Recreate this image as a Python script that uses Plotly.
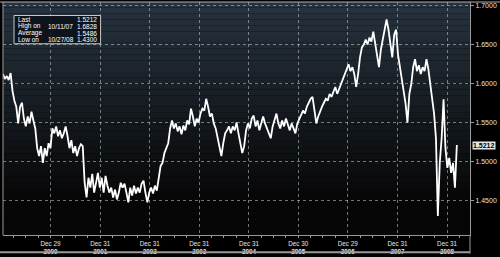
import pandas as pd
import plotly.graph_objects as go

# EUR/CHF-style series, fortnightly closes
start_date = "2000-01-14"
values = [
    1.6124, 1.6061, 1.6099, 1.6048, 1.6137, 1.5909, 1.5782, 1.5705, 1.5490, 1.5705,
    1.5756, 1.5553, 1.5452, 1.5579, 1.5490, 1.5642, 1.5528, 1.5426, 1.5172, 1.5071,
    1.5198, 1.4982, 1.5172, 1.5071, 1.5236, 1.5172, 1.5426, 1.5363, 1.5452, 1.5325,
    1.5401, 1.5299, 1.5363, 1.5452, 1.5325, 1.5172, 1.5274, 1.5109, 1.5198, 1.5071,
    1.5172, 1.5223, 1.5198, 1.4728, 1.4538, 1.4792, 1.4665, 1.4843, 1.4601, 1.4728,
    1.4855, 1.4665, 1.4792, 1.4601, 1.4817, 1.4690, 1.4601, 1.4665, 1.4538, 1.4640,
    1.4513, 1.4601, 1.4728, 1.4665, 1.4716, 1.4601, 1.4475, 1.4665, 1.4563, 1.4690,
    1.4589, 1.4665, 1.4601, 1.4716, 1.4754, 1.4601, 1.4475, 1.4601, 1.4665, 1.4589,
    1.4690, 1.4627, 1.4792, 1.4944, 1.4982, 1.5109, 1.5172, 1.5236, 1.5426, 1.5528,
    1.5426, 1.5490, 1.5388, 1.5452, 1.5350, 1.5464, 1.5401, 1.5528, 1.5477, 1.5680,
    1.5579, 1.5452, 1.5553, 1.5502, 1.5617, 1.5680, 1.5655, 1.5807, 1.5705, 1.5579,
    1.5617, 1.5490, 1.5426, 1.5299, 1.5172, 1.5071, 1.5236, 1.5363, 1.5401, 1.5452,
    1.5363, 1.5452, 1.5401, 1.5502, 1.5363, 1.5236, 1.5109, 1.5198, 1.5401, 1.5490,
    1.5426, 1.5553, 1.5591, 1.5452, 1.5528, 1.5401, 1.5477, 1.5579, 1.5490, 1.5426,
    1.5350, 1.5299, 1.5452, 1.5553, 1.5617, 1.5490, 1.5426, 1.5528, 1.5452, 1.5553,
    1.5464, 1.5401, 1.5490, 1.5426, 1.5363, 1.5490, 1.5553, 1.5591, 1.5655, 1.5617,
    1.5705, 1.5756, 1.5807, 1.5832, 1.5655, 1.5490, 1.5579, 1.5655, 1.5705, 1.5756,
    1.5807, 1.5782, 1.5870, 1.5832, 1.5896, 1.5959, 1.5870, 1.5934, 1.5997, 1.6061,
    1.6112, 1.6188, 1.6251, 1.6162, 1.6213, 1.6124, 1.5959, 1.6124, 1.6340, 1.6467,
    1.6505, 1.6568, 1.6505, 1.6594, 1.6543, 1.6670, 1.6505, 1.6378, 1.6213, 1.6441,
    1.6568, 1.6695, 1.6828, 1.6695, 1.6505, 1.6340, 1.6632, 1.6695, 1.6378, 1.6213,
    1.6061, 1.5934, 1.5744, 1.5500, 1.5870, 1.5997, 1.6213, 1.6315, 1.6162, 1.6238,
    1.6124, 1.6213, 1.6162, 1.6315, 1.6188, 1.5997, 1.5807, 1.5617, 1.5299, 1.4300,
    1.4982, 1.5299, 1.5800, 1.5172, 1.4919, 1.5046, 1.4855, 1.4982, 1.4665, 1.5212,
]

year_tick_dates = ["2000-12-29", "2001-12-31", "2002-12-31", "2003-12-31", "2004-12-31",
                   "2005-12-30", "2006-12-29", "2007-12-31", "2008-12-31"]
year_tick_labels = ["Dec 29<br><b>2000</b>", "Dec 31<br><b>2001</b>", "Dec 31<br><b>2002</b>",
                    "Dec 31<br><b>2003</b>", "Dec 31<br><b>2004</b>", "Dec 30<br><b>2005</b>",
                    "Dec 29<br><b>2006</b>", "Dec 31<br><b>2007</b>", "Dec 31<br><b>2008</b>"]
y_ticks = [1.45, 1.50, 1.55, 1.60, 1.65, 1.70]

stat_labels = ["Last", "High on", "Average", "Low on"]
stat_dates = ["", "10/11/07", "", "10/27/08"]
stat_values = [1.5212, 1.6828, 1.5486, 1.4300]

dates = pd.date_range(start_date, periods=len(values), freq="14D")

fig = go.Figure()
fig.add_trace(go.Scatter(x=dates, y=values, mode="lines",
                         line=dict(color="white", width=1.8), hoverinfo="skip"))

# gradient background of plot area
shapes = []
n = 40
top = (38, 50, 62)
bot = (6, 6, 6)
for k in range(n):
    t = k / (n - 1)
    c = tuple(int(round(top[j] + (bot[j] - top[j]) * min(1, t * 1.15))) for j in range(3))
    shapes.append(dict(type="rect", xref="paper", yref="paper", layer="below",
                       x0=0, x1=1, y1=1 - k / n, y0=1 - (k + 1) / n,
                       fillcolor="rgb(%d,%d,%d)" % c, line=dict(width=0)))

# stats box
shapes.append(dict(type="rect", xref="paper", yref="paper", layer="above",
                   x0=0.0236, x1=0.209, y0=0.8208, y1=0.942,
                   fillcolor="rgba(12,18,26,0.9)", line=dict(color="#c8c8c8", width=1)))
# frame lines
shapes.append(dict(type="line", xref="paper", yref="paper", x0=0, x1=0, y0=0, y1=1,
                   line=dict(color="#9a9a9a", width=1)))
shapes.append(dict(type="line", xref="paper", yref="paper", x0=-0.01, x1=1.07, y0=1, y1=1,
                   line=dict(color="#b0b0b0", width=1)))
shapes.append(dict(type="line", xref="paper", yref="paper", x0=-0.01, x1=1.0, y0=-0.074, y1=-0.074,
                   line=dict(color="#9a9a9a", width=2)))
shapes.append(dict(type="line", xref="paper", yref="paper", x0=1, x1=1, y0=-0.08, y1=0,
                   line=dict(color="#9a9a9a", width=1)))

annotations = []
row_y = [0.9237, 0.8953, 0.8657, 0.8377]
for lab, d, v, yy in zip(stat_labels, stat_dates, stat_values, row_y):
    annotations.append(dict(xref="paper", yref="paper", x=0.0278, y=yy, text=lab,
                            showarrow=False, xanchor="left", yanchor="middle",
                            font=dict(size=6.5, color="white")))
    if d:
        annotations.append(dict(xref="paper", yref="paper", x=0.092, y=yy, text=d,
                                showarrow=False, xanchor="left", yanchor="middle",
                                font=dict(size=6.5, color="white")))
    annotations.append(dict(xref="paper", yref="paper", x=0.2066, y=yy, text="%.4f" % v,
                            showarrow=False, xanchor="right", yanchor="middle",
                            font=dict(size=6.5, color="white")))

# last value tag on right axis
annotations.append(dict(xref="paper", yref="y", x=1.004, y=stat_values[0],
                        text="<b>%.4f</b>" % stat_values[0], showarrow=False,
                        xanchor="left", yanchor="middle", bgcolor="#e6e6e6",
                        borderpad=0, font=dict(size=7, color="black")))

fig.update_layout(
    width=500, height=257,
    margin=dict(l=3, r=30, t=2, b=19),
    paper_bgcolor="black", plot_bgcolor="rgba(0,0,0,0)",
    showlegend=False,
    shapes=shapes, annotations=annotations,
    font=dict(family="Liberation Sans, Arial, sans-serif", color="#dcdcdc"),
    xaxis=dict(range=["2000-01-14", "2009-06-18"], tickvals=year_tick_dates,
               ticktext=year_tick_labels, showgrid=True, griddash="dot",
               gridcolor="rgba(200,205,210,0.55)", gridwidth=1,
               ticks="outside", ticklen=2, tickcolor="#9a9a9a",
               showline=True, linecolor="#9a9a9a", linewidth=1,
               tickfont=dict(size=6.3, color="#e8e8e8"), zeroline=False,
               minor=dict(ticks="outside", ticklen=2, tickcolor="#9a9a9a",
                          dtick="M3", tick0="2000-03-31", showgrid=False)),
    yaxis=dict(range=[1.4056, 1.7051], side="right", tickvals=y_ticks,
               tickformat=".4f", showgrid=True, griddash="dot",
               gridcolor="rgba(200,205,210,0.55)", gridwidth=1,
               ticks="outside", ticklen=3, tickcolor="#9a9a9a",
               showline=True, linecolor="#9a9a9a", linewidth=1, mirror=False,
               tickfont=dict(size=7, color="#e0e0e0"), zeroline=False),
)

fig.write_html("out.html")
